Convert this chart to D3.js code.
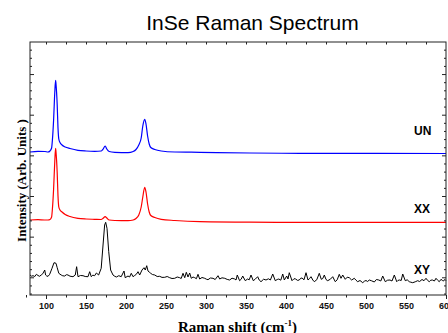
<!DOCTYPE html>
<html>
<head>
<meta charset="utf-8">
<script src="https://cdn.jsdelivr.net/npm/d3@7"></script>
<style>
  body { margin: 0; background: #fff; }
  svg { display: block; }
  .tick line { stroke: #222; }
  .domain { display: none; }
</style>
</head>
<body>
<figure id="raman" style="margin:0"></figure>
<script>
// Raman shift (cm-1) / intensity (arb. units, stacked)
const unSpectrum = [
  [80, 143], [90, 143.7], [98.75, 143.5], [102.5, 143], [105, 144], [107, 147],
  [108, 155], [109.5, 175], [111, 203], [112, 214.7], [112.5, 211], [114, 190],
  [115, 167], [116, 156], [117.5, 152.5], [120, 150], [124, 148], [130, 146.5],
  [140, 144.7], [150, 144], [161, 143.7], [169, 144], [171, 145.5], [174, 149],
  [176, 146], [179, 143.5], [186, 142.7], [202.5, 142.3], [209, 143.5], [212.5, 145.5],
  [216, 150], [219, 157], [221, 169], [223.4, 175.7], [225, 171], [227, 159],
  [229, 151], [231, 147.5], [236, 145.5], [244, 144], [261, 143], [292.5, 142.7],
  [355, 142], [417.5, 141.7], [600, 141.5]
];

const xxSpectrum = [
  [80, 75], [90, 75.3], [98, 75], [102.5, 75], [105, 75.5], [107, 78],
  [108, 86], [109.5, 106], [111, 134], [112, 146.7], [112.5, 143], [114, 122],
  [115, 99], [116, 88], [117.5, 85], [120, 83], [124, 80.5], [130, 78.5],
  [140, 76.7], [150, 76], [161, 75.7], [169, 75.5], [171, 76.5], [174, 78.3],
  [176, 77], [179, 75], [186, 74.5], [202.5, 74.3], [209, 75], [212.5, 76.5],
  [216, 80], [219, 88], [221, 98], [223.4, 107.7], [225, 103], [227, 91],
  [229, 83], [231, 79.5], [236, 77.5], [244, 75.7], [261, 74.5], [292.5, 73.3],
  [355, 72.8], [417.5, 72.7], [600, 72.7]
];

const xySpectrum = [
  [80, 20], [82, 18.8], [83.75, 19.3], [86, 18.5], [88, 20.7], [90, 19.5], [92, 18.7],
  [94, 20], [96, 21.3], [98.4, 25], [99.5, 20], [100.4, 19.3], [102.5, 18.6], [104.6, 20.7],
  [107.5, 26.7], [110, 32.3], [112.5, 31.7], [114, 27.3], [116, 21.7], [119, 20],
  [121, 19.2], [123.4, 19], [125.5, 20.3], [127.5, 20], [130, 18.8], [133.75, 18.3],
  [136.6, 20], [138.3, 28.3], [140, 18.3], [143, 19.5], [146.25, 19.3], [149, 18.5],
  [152.5, 18.3], [154.6, 23.3], [156.6, 18.3], [158.5, 19.8], [160.8, 19.3], [163, 22],
  [165.8, 20], [169, 26.7], [171.3, 50], [173.3, 70], [174.6, 72.7], [176.25, 66.7],
  [178.4, 43.3], [180.8, 25], [183.75, 20], [186, 18.7], [188, 18], [191, 19.3],
  [194, 18.3], [197.5, 24], [199, 17.3], [202.5, 19], [204.5, 18], [206.6, 21.7],
  [208.75, 18.3], [210.8, 19.5], [212.9, 20.7], [215, 23.3], [217.1, 20], [220, 25],
  [222.5, 27.3], [224.1, 25], [225.9, 29.3], [227.5, 24], [229, 23], [230.9, 21.7],
  [233, 20.5], [235.9, 20], [239, 18.5], [242.1, 18.7], [245, 17.6], [248.4, 17.7],
  [251.5, 18.5], [254.6, 17.3], [257.5, 16.5], [260.9, 16.7], [264, 18], [267.1, 17.3],
  [269, 16.5], [271.25, 21.7], [273.4, 17.3], [275.4, 22.7], [277.5, 18], [279.6, 22],
  [281.6, 16.7], [283.8, 18], [285.9, 17.3], [288, 16.3], [290, 20.7], [292.1, 16],
  [295, 17.5], [298.4, 16.7], [300.5, 15.8], [302.5, 15.3], [305.5, 17], [308.75, 16.7],
  [311.5, 15.5], [315, 19.3], [317.1, 16], [320, 17.2], [323.4, 16.7], [326.5, 15.6],
  [329.6, 15], [332.5, 16.8], [335.9, 16], [337.5, 15], [339.1, 20], [342, 14.3],
  [344, 15.8], [345.9, 19], [349.1, 14.3], [352, 16], [354, 15.2], [356.25, 20],
  [359.1, 14.3], [361.5, 15.8], [364.6, 18.3], [366.5, 15], [368.75, 13.3], [372, 15.8],
  [375, 15], [378, 16.2], [380.5, 15], [383.4, 21], [386.6, 14.3], [389, 15.5],
  [391, 16], [393.5, 14.8], [395.9, 21], [397.9, 15], [400.9, 19], [402.5, 16],
  [404.1, 22.3], [407.5, 14.3], [410, 16.3], [412, 16], [414.5, 14.6], [416.6, 15],
  [418.5, 16.8], [420, 17], [422.5, 15.2], [425, 22.3], [427.5, 15], [429.5, 16.5],
  [431.25, 18.3], [433.5, 15], [435.4, 13.3], [438.5, 15.3], [441.6, 21.7], [444.1, 15.7],
  [446, 16.5], [447.9, 20], [450, 15.5], [452.1, 14.3], [455.5, 15.8], [458.4, 18.3],
  [461.6, 13.3], [464, 15.2], [466.6, 20.7], [468.75, 16.7], [470.9, 20], [474.1, 15.7],
  [476.5, 17.8], [479.1, 17.3], [482, 15], [485.4, 16.7], [487.5, 14.8], [489.6, 13.3],
  [492.5, 14.5], [495.9, 12.3], [498, 13.8], [500, 14.5], [502, 13.5], [504.1, 15],
  [507, 14.2], [510.4, 13], [513, 15.5], [516, 15], [518.5, 14], [520.9, 19],
  [524.1, 13.3], [527, 14.8], [530, 15], [532.5, 14], [535.4, 20], [538.4, 13.3],
  [540, 14.6], [542, 15], [544, 14.5], [545.9, 21], [549.1, 14.3], [551.5, 15.2],
  [554.1, 13.3], [556, 12.8], [558.4, 12.3], [561.5, 13.2], [564.6, 14.3], [567, 13.5],
  [570, 15.5], [572.5, 14.3], [575, 16.7], [577, 14.6], [579.1, 13.3], [581, 14.8],
  [583, 15], [585.5, 14], [587.5, 16.7], [589.5, 14.8], [591.6, 13.3], [593.75, 15.7],
  [595.5, 14.5], [597, 14], [598.5, 15.6], [600, 14.3]
];

const seriesNames = ["UN", "XX", "XY"];
const seriesColors = ["#0000ff", "#ff0000", "#000000"];
const labelShift = [560, 560, 560];
const labelLevel = [160, 82, 21];
const xTickValues = [100, 150, 200, 250, 300, 350, 400, 450, 500, 550, 600];

const width = 448, height = 333;
const margin = { top: 42, right: 2, bottom: 38, left: 30 };
const plotW = width - margin.left - margin.right;
const plotH = height - margin.top - margin.bottom;

const svg = d3.select("figure#raman")
  .append("svg")
  .attr("width", width)
  .attr("height", height);

const x = d3.scaleLinear().domain([80, 600]).range([0, plotW]);
const y = d3.scaleLinear().domain([0, 253]).range([plotH, 0]);

const g = svg.append("g")
  .attr("transform", "translate(" + margin.left + "," + margin.top + ")");

// title
svg.append("text")
  .attr("x", 252.5)
  .attr("y", 30)
  .attr("text-anchor", "middle")
  .style("font-family", "'Liberation Sans', Arial, sans-serif")
  .style("font-size", "21px")
  .text("InSe Raman Spectrum");

// spectra
const line = d3.line()
  .x(d => x(d[0]))
  .y(d => y(d[1]));

const spectra = [unSpectrum, xxSpectrum, xySpectrum];
spectra.forEach((s, i) => {
  g.append("path")
    .datum(s)
    .attr("fill", "none")
    .attr("stroke", seriesColors[i])
    .attr("stroke-width", i < 2 ? 1.2 : 1)
    .attr("stroke-linejoin", "round")
    .attr("d", line.curve(i < 2 ? d3.curveMonotoneX : d3.curveLinear));
});

// series labels
g.selectAll("text.series")
  .data(seriesNames)
  .enter()
  .append("text")
  .attr("class", "series")
  .attr("x", (d, i) => x(labelShift[i]))
  .attr("y", (d, i) => y(labelLevel[i]))
  .style("font-family", "'Liberation Sans', Arial, sans-serif")
  .style("font-weight", "bold")
  .style("font-size", "12px")
  .text(d => d);

// y ticks (no labels) every ~8.13 px, longer every 5th
const yTicks = d3.range(0, 31).map(k => 1.44 + 8.13 * k);
const yMajor = yTicks.filter((v, k) => k % 5 === 2);
const yMinor = yTicks.filter((v, k) => k % 5 !== 2);

// x minor ticks every 25
const xMinor = d3.range(75, 600, 50);

// frame
g.append("rect")
  .attr("width", plotW)
  .attr("height", plotH)
  .attr("fill", "none")
  .attr("stroke", "#222")
  .attr("stroke-width", 1);

// bottom axis
g.append("g")
  .attr("transform", "translate(0," + plotH + ")")
  .call(d3.axisBottom(x).tickValues(xMinor).tickSize(2.5).tickFormat(""));

const bottom = g.append("g")
  .attr("transform", "translate(0," + plotH + ")")
  .call(d3.axisBottom(x).tickValues(xTickValues).tickSize(4).tickPadding(4));
bottom.selectAll("text")
  .attr("fill", "#111")
  .style("font-family", "'Liberation Sans', Arial, sans-serif")
  .style("font-weight", "bold")
  .style("font-size", "9px");

// top axis, ticks inside
g.append("g")
  .call(d3.axisTop(x).tickValues(d3.range(100, 600, 25)).tickSize(-2.5).tickFormat(""));

// left and right axes, ticks inside
g.append("g")
  .call(d3.axisLeft(y).tickValues(yMinor).tickSize(-2).tickFormat(""));
g.append("g")
  .call(d3.axisLeft(y).tickValues(yMajor).tickSize(-4).tickFormat(""));
g.append("g")
  .attr("transform", "translate(" + plotW + ",0)")
  .call(d3.axisRight(y).tickValues(yMinor).tickSize(-2).tickFormat(""));
g.append("g")
  .attr("transform", "translate(" + plotW + ",0)")
  .call(d3.axisRight(y).tickValues(yMajor).tickSize(-4).tickFormat(""));

// axis titles
const xTitle = svg.append("text")
  .attr("x", 237.5)
  .attr("y", 332)
  .attr("text-anchor", "middle")
  .style("font-family", "'Liberation Serif', 'Times New Roman', serif")
  .style("font-weight", "bold")
  .style("font-size", "15px");
xTitle.append("tspan").text("Raman shift (cm");
xTitle.append("tspan").attr("dy", -6).style("font-size", "9px").text("-1");
xTitle.append("tspan").attr("dy", 6).text(")");

svg.append("text")
  .attr("transform", "translate(26,180.5) rotate(-90)")
  .attr("text-anchor", "middle")
  .style("font-family", "'Liberation Serif', 'Times New Roman', serif")
  .style("font-weight", "bold")
  .style("font-size", "13px")
  .text("Intensity (Arb. Units )");
</script>
</body>
</html>
